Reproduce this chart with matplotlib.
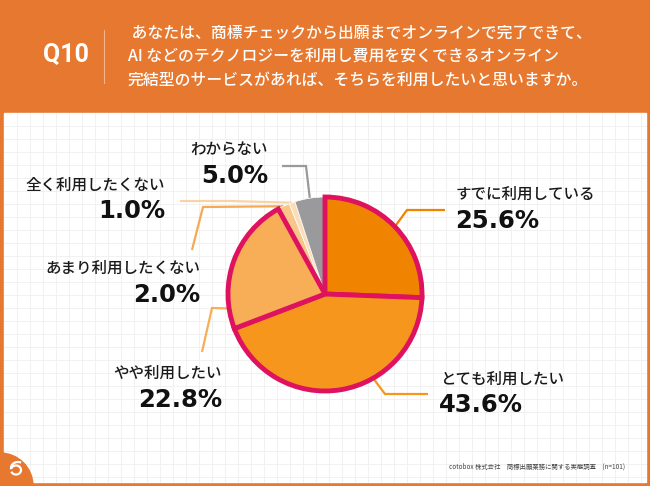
"""Q10 survey result: pie chart of intent to use an online trademark service."""

import matplotlib
matplotlib.use("Agg")

import matplotlib.pyplot as plt
from matplotlib.patches import Arc, Circle, Rectangle
import numpy as np

# ---- data ----
categories = ["すでに利用している", "とても利用したい", "やや利用したい",
              "あまり利用したくない", "全く利用したくない", "わからない"]
shares = [25.6, 43.6, 22.8, 2.0, 1.0, 5.0]
pct_labels = ["25.6%", "43.6%", "22.8%", "2.0%", "1.0%", "5.0%"]

question_no = "Q10"
question_lines = [
    " あなたは、商標チェックから出願までオンラインで完了できて、",
    "AI などのテクノロジーを利用し費用を安くできるオンライン",
    "完結型のサービスがあれば、そちらを利用したいと思いますか。",
]
source_note = "cotobox 株式会社　商標出願業務に関する実態調査　(n=101)"

# ---- style / layout (pixel units, y measured from the top) ----
W, H = 650, 486
ORANGE = "#E6782F"
CRIMSON = "#DF1260"
slice_colors = ["#F08300", "#F6961C", "#F7AE56", "#F9C68A", "#FCDDB9", "#9A9A9C"]
line_colors = ["#F08300", "#F6961C", "#F7AE56", "#F5A952", "#FAD3A5", "#9A9A9C"]
PIE_C, PIE_R = (325, 294), 97
anchor_frac = [0.5, 0.37, 0.15, 0.5, 0.5, 0.5]     # where the leader leaves the slice
leader_pts = [[(407, 210), (445, 210)], [(385, 394), (428, 394)],
              [(212, 308), (202, 352)], [(203, 207), (192, 250)],
              [(230, 201), (180, 201)], [(306, 166), (282, 166)]]
label_pos = [(456, 194, "left"), (440, 379, "left"), (222, 373, "right"),
             (200, 268, "right"), (165, 185, "right"), (268, 149, "right")]
pct_pos = [(455, 221), (439, 405), (222, 400), (200, 295), (165, 211), (268, 176)]

JP = ["Noto Sans CJK JP", "DejaVu Sans"]


def Y(y):
    return H - y


def main():
    fig = plt.figure(figsize=(W / 100, H / 100), dpi=100)
    ax = fig.add_axes([0, 0, 1, 1])
    ax.set_axis_off()

    # background: orange frame, white card, light grid
    ax.add_patch(Rectangle((0, 0), W, H, color=ORANGE, zorder=0))
    ax.add_patch(Rectangle((4, Y(482)), 642, 482 - 113, color="white", zorder=0.5))
    for gx in np.arange(4 + 13, 646, 13):
        ax.plot([gx, gx], [Y(482), Y(113)], color="#EFEFEF", lw=0.6, zorder=0.6)
    for gy in np.arange(113 + 13, 482, 13):
        ax.plot([4, 646], [Y(gy), Y(gy)], color="#EFEFEF", lw=0.6, zorder=0.6)
    ax.add_patch(Circle((0, 0), 33, color=ORANGE, zorder=0.7))
    ax.add_patch(Arc((16, Y(470)), 10, 9, theta1=200, theta2=520, color="white", lw=1.6, zorder=0.8))
    ax.add_patch(Arc((18, Y(468)), 14, 12, theta1=60, theta2=190, color="white", lw=1.6, zorder=0.8))

    # header
    ax.text(66, Y(55), question_no, color="white", fontsize=18, fontweight="bold",
            family=["Roboto", "DejaVu Sans"], ha="center", va="center")
    ax.plot([104, 104], [Y(30), Y(83)], color="#F2B48A", lw=0.8)
    for i, line in enumerate(question_lines):
        ax.text(128, Y(33 + 23.5 * i), line, color="white", fontsize=11.4,
                family=JP, fontweight="medium", ha="left", va="center")

    # pie
    wedges, _ = ax.pie(shares, colors=slice_colors, startangle=90, counterclock=False,
                       center=(PIE_C[0], Y(PIE_C[1])), radius=PIE_R,
                       wedgeprops=dict(linewidth=0.5, edgecolor="white"))
    for w in wedges[:3]:
        w.set_edgecolor(CRIMSON)
        w.set_linewidth(3.5)
        w.set_zorder(3)
    for w in wedges[3:]:
        w.set_zorder(2)

    # leader lines and labels
    for i, w in enumerate(wedges):
        ang = np.deg2rad(w.theta2 - anchor_frac[i] * (w.theta2 - w.theta1))
        start = (PIE_C[0] + PIE_R * np.cos(ang), Y(PIE_C[1]) + PIE_R * np.sin(ang))
        pts = [start] + [(x, Y(y)) for x, y in leader_pts[i]]
        xs, ys = zip(*pts)
        ax.plot(xs, ys, color=line_colors[i], lw=1.6, zorder=1.5,
                solid_joinstyle="miter", solid_capstyle="butt")

        lx, ly, ha = label_pos[i]
        ax.text(lx, Y(ly), categories[i], fontsize=11.2, family=JP, fontweight="medium",
                color="#1A1A1A", ha=ha, va="center")
        px, py = pct_pos[i]
        ax.text(px, Y(py), pct_labels[i], fontsize=17.5, fontweight="bold",
                family=["DejaVu Sans"], color="#111111", ha=ha, va="center")

    ax.text(625, Y(467), source_note, fontsize=4.6, family=JP, color="#444444",
            ha="right", va="center")

    ax.set_xlim(0, W)
    ax.set_ylim(0, H)
    ax.set_aspect("auto")
    fig.savefig("out.png", dpi=100)
    plt.close(fig)


if __name__ == "__main__":
    main()
